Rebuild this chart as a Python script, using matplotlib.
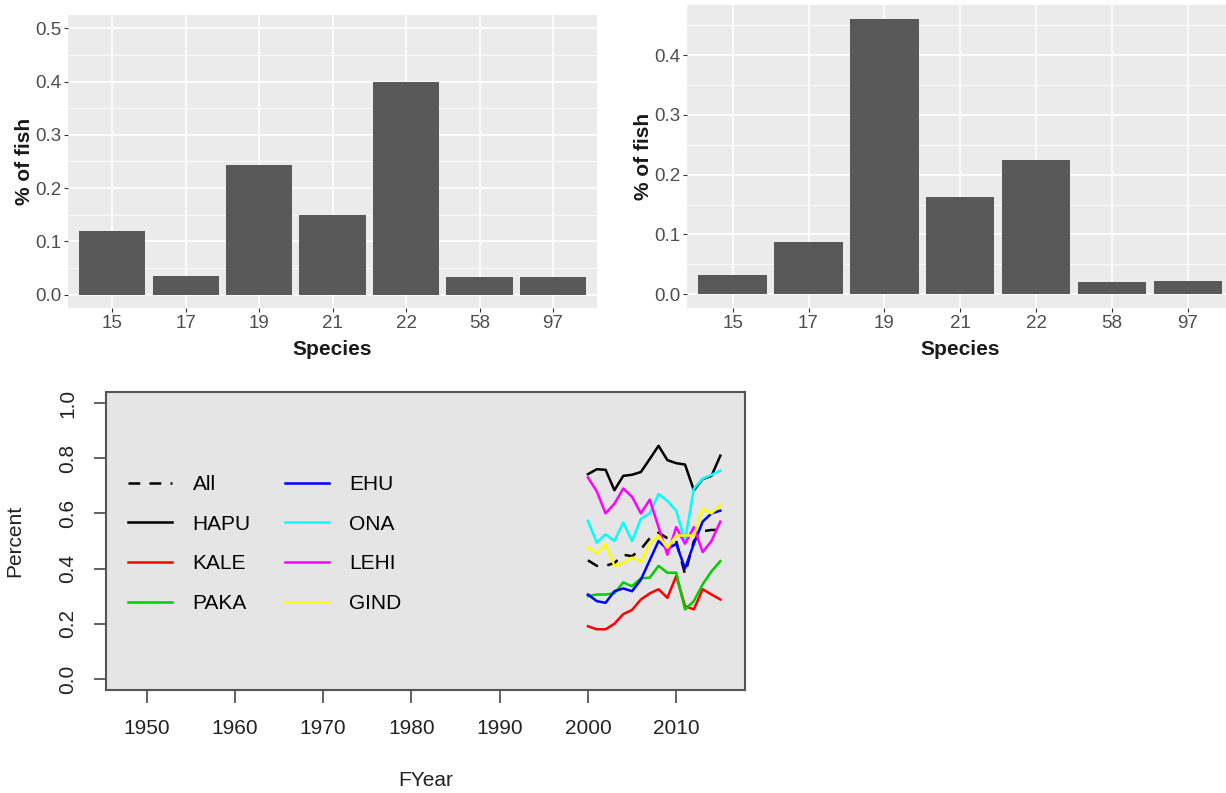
import numpy as np
import matplotlib.pyplot as plt

plt.rcParams['font.family'] = ['Liberation Sans', 'DejaVu Sans']

# bar charts
species = ['15', '17', '19', '21', '22', '58', '97']
pct_left = [0.119, 0.036, 0.243, 0.149, 0.400, 0.034, 0.034]
pct_right = [0.032, 0.087, 0.461, 0.162, 0.224, 0.020, 0.023]

# line chart
years = list(range(2000, 2016))
all_pct = [0.43, 0.41, 0.41, 0.42, 0.45, 0.445, 0.47, 0.51, 0.53, 0.51, 0.50, 0.38, 0.50, 0.535, 0.54, 0.54]
hapu = [0.742, 0.760, 0.758, 0.684, 0.736, 0.740, 0.750, 0.797, 0.845, 0.793, 0.782, 0.777, 0.684, 0.724, 0.736, 0.809]
kale = [0.191, 0.180, 0.180, 0.200, 0.235, 0.250, 0.288, 0.310, 0.325, 0.294, 0.373, 0.264, 0.252, 0.325, 0.306, 0.288]
paka = [0.300, 0.306, 0.306, 0.310, 0.350, 0.336, 0.365, 0.367, 0.410, 0.385, 0.385, 0.252, 0.282, 0.343, 0.390, 0.427]
ehu = [0.306, 0.282, 0.276, 0.318, 0.328, 0.318, 0.360, 0.430, 0.500, 0.470, 0.490, 0.400, 0.490, 0.570, 0.600, 0.610]
ona = [0.573, 0.494, 0.524, 0.500, 0.567, 0.500, 0.580, 0.600, 0.670, 0.645, 0.610, 0.500, 0.690, 0.725, 0.740, 0.755]
lehi = [0.730, 0.680, 0.600, 0.635, 0.690, 0.660, 0.600, 0.650, 0.550, 0.450, 0.550, 0.490, 0.550, 0.460, 0.500, 0.570]
gind = [0.476, 0.455, 0.488, 0.410, 0.420, 0.440, 0.425, 0.490, 0.520, 0.475, 0.520, 0.520, 0.520, 0.615, 0.600, 0.630]

series_names = ['All', 'HAPU', 'KALE', 'PAKA', 'EHU', 'ONA', 'LEHI', 'GIND']
series_vals = [all_pct, hapu, kale, paka, ehu, ona, lehi, gind]
series_cols = ['black', 'black', '#FF0000', '#00CD00', '#0000FF', '#00FFFF', '#FF00FF', '#FFFF00']

fig = plt.figure(figsize=(12.26, 7.93), dpi=100)


def bar_panel(ax, values, ylim, top_tick):
    x = np.arange(len(species))
    ax.bar(x, values, width=0.9, color='#595959', zorder=3)
    ax.set_facecolor('#EBEBEB')
    for s in ax.spines.values():
        s.set_visible(False)
    ax.set_xlim(-0.6, len(species) - 0.4)
    ax.set_ylim(*ylim)
    ax.set_xticks(x)
    ax.set_xticklabels(species)
    major = np.arange(0, top_tick + 0.001, 0.1)
    ax.set_yticks(major)
    ax.set_yticklabels(['%.1f' % v for v in major])
    ax.set_yticks(np.arange(0.05, ylim[1], 0.1), minor=True)
    ax.grid(which='major', color='white', lw=1.2, zorder=0)
    ax.grid(which='minor', axis='y', color='white', lw=0.6, zorder=0)
    ax.set_axisbelow(True)
    ax.tick_params(which='major', length=3, width=0.8, color='#333333',
                   labelcolor='#4D4D4D', labelsize=13.5, pad=2)
    ax.tick_params(which='minor', length=0)
    ax.set_xlabel('Species', fontsize=15, fontweight='bold', labelpad=5.5, color='#1A1A1A')
    ax.set_ylabel('% of fish', fontsize=15, fontweight='bold', labelpad=0.5, color='#1A1A1A')


ax1 = fig.add_axes([0.0555, 0.6116, 0.4315, 0.3695])
bar_panel(ax1, pct_left, (-0.025, 0.525), 0.5)

ax2 = fig.add_axes([0.5604, 0.6116, 0.4458, 0.3821])
bar_panel(ax2, pct_right, (-0.023, 0.484), 0.4)

# base-R style line plot
ax3 = fig.add_axes([0.0865, 0.1299, 0.5212, 0.3758])
ax3.set_facecolor('#E5E5E5')
for name, vals, col in zip(series_names, series_vals, series_cols):
    ls = (0, (4.7, 3.7)) if name == 'All' else '-'
    ax3.plot(years, vals, color=col, lw=1.8, ls=ls, label=name)

ax3.set_xlim(1945.4, 2017.8)
ax3.set_ylim(-0.04, 1.04)
ax3.set_xticks(range(1950, 2011, 10))
ax3.set_yticks([0.0, 0.2, 0.4, 0.6, 0.8, 1.0])
ax3.set_yticklabels(['0.0', '0.2', '0.4', '0.6', '0.8', '1.0'])
for s in ax3.spines.values():
    s.set_color('#555555')
    s.set_linewidth(1.5)
ax3.tick_params(length=9, width=1.3, color='#555555', labelcolor='#222222',
                labelsize=15, pad=12)
ax3.tick_params(axis='y', labelrotation=90)
for lab in ax3.get_yticklabels():
    lab.set_va('center')
ax3.set_xlabel('FYear', fontsize=15, color='#222222', labelpad=24)
ax3.set_ylabel('Percent', fontsize=15, color='#222222', labelpad=24)

ax3.legend(ncol=2, loc='upper left', bbox_to_anchor=(0.1044, 0.401),
           bbox_transform=fig.transFigure, frameon=False, fontsize=15,
           borderpad=0, borderaxespad=0, handlelength=2.1, handletextpad=1.0,
           columnspacing=1.64, labelspacing=0.99)

fig.savefig('out.png', dpi=100)
